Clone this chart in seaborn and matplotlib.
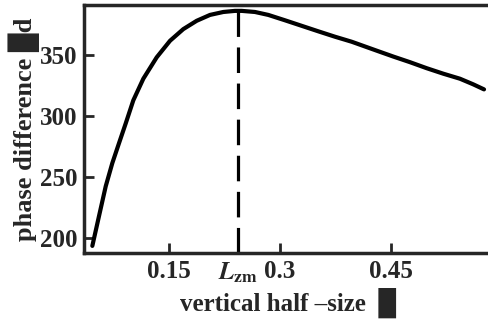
import numpy as np
import pandas as pd
import matplotlib
matplotlib.use("Agg")
import matplotlib.pyplot as plt
import seaborn as sns

# data
half_size = [0.0464, 0.0554, 0.0645, 0.0734, 0.0824, 0.0915, 0.1018, 0.1153,
             0.1334, 0.1514, 0.1693, 0.1874, 0.2054, 0.2234, 0.2392, 0.2482,
             0.2662, 0.2842, 0.3068, 0.3293, 0.3518, 0.3743, 0.3969, 0.4307,
             0.4531, 0.4757, 0.4982, 0.5207, 0.5432, 0.5612, 0.5757]
phase_diff = [193.8, 218.1, 242.5, 261.4, 277.6, 293.8, 312.7, 330.3,
              347.8, 361.3, 370.8, 377.6, 382.4, 384.8, 385.7, 385.7,
              384.8, 382.4, 378.0, 373.5, 369.0, 364.6, 360.5, 353.2,
              348.4, 343.8, 338.9, 334.4, 330.3, 325.7, 321.6]
L_zm = 0.243
x_ticks = [0.15, L_zm, 0.3, 0.45]
x_ticklabels = ["0.15", r"$L_{\rm zm}$", "0.3", "0.45"]
y_ticks = [200, 250, 300, 350]
y_ticklabels = ["200", "250", "300", "350"]

sns.set_style("ticks")
plt.rcParams["font.family"] = ["Liberation Serif", "DejaVu Sans"]
plt.rcParams["font.weight"] = "bold"
plt.rcParams["mathtext.fontset"] = "stix"

fig = plt.figure(figsize=(4.88, 3.26), dpi=100)
ax = fig.add_axes([84 / 488, 1 - 253 / 326, (493 - 84) / 488, (253 - 5) / 326])

df = pd.DataFrame({"x": half_size, "y": phase_diff})
sns.lineplot(data=df, x="x", y="y", ax=ax, color="black", linewidth=3.0)
ax.lines[0].set_solid_joinstyle("round")

peak = max(phase_diff)
ax.plot([L_zm, L_zm], [188, peak], color="black", linewidth=2.3,
        dashes=(8, 3.3))

ax.set_xlim((84 - 58) / 740, (493 - 58) / 740)
ax.set_ylim(188, 390.5)

ax.set_xticks(x_ticks)
ax.set_xticklabels(x_ticklabels, fontsize=18, fontweight="bold")
ax.set_yticks(y_ticks)
ax.set_yticklabels(y_ticklabels, fontsize=18, fontweight="bold")
ax.tick_params(direction="in", length=7, width=2, pad=5)

for s in ["left", "bottom", "top"]:
    ax.spines[s].set_linewidth(2.5)
ax.spines["right"].set_visible(False)

ax.set_xlabel("vertical half \u2013size  \u2588", fontsize=18, fontweight="bold", labelpad=2)
ax.set_ylabel("phase difference \u2588d", fontsize=19, fontweight="bold", labelpad=0)

fig.savefig("out.png", dpi=100)
